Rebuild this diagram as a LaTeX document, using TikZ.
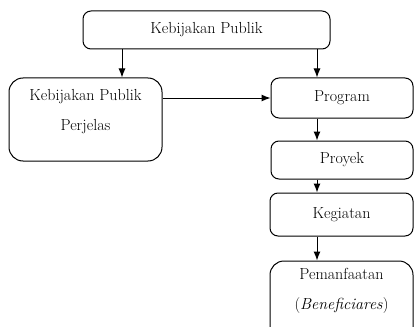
\documentclass[tikz,border=0pt]{standalone}
\usetikzlibrary{arrows.meta}

\tikzset{
  box/.style={draw, line width=1pt, rounded corners=8pt, inner sep=0pt},
  arr/.style={line width=1pt, -{Latex[length=9pt,width=7pt]}},
  every node/.style={font=\fontsize{16}{30}\selectfont},
  every label/.style={font=\fontsize{16}{30}\selectfont}
}

\begin{document}
\begin{tikzpicture}[x=1pt,y=-1pt]
    \clip (0,0) rectangle (414,326);
    \node[box, minimum width=247pt, minimum height=38pt] (top) at (206.5,30) {Kebijakan Publik};
    \node[box, rounded corners=14pt, minimum width=153pt, minimum height=83pt,
          label={[align=center, yshift=7.5pt]center:Kebijakan Publik\\Perjelas}] (lft) at (85.5,119.5) {};
    \node[box, minimum width=142pt, minimum height=40pt] (prog) at (342,98) {Program};
    \node[box, minimum width=142pt, minimum height=38pt] (proy) at (342,160) {Proyek};
    \node[box, minimum width=143pt, minimum height=43pt] (keg) at (341.5,214.5) {Kegiatan};
    \node[box, rounded corners=14pt, minimum width=143pt, minimum height=90pt,
          label={[align=center, anchor=north, yshift=-4pt]north:Pemanfaatan\\(\textit{Beneficiares})}] (pem) at (341.5,306) {};
    \coordinate (lx) at (122,0);
    \coordinate (rx) at (317,0);
\draw[arr] (top.south -| lx) -- (lft.north -| lx);
\draw[arr] (top.south -| rx) -- (prog.north -| rx);
\draw[arr] (lft.east |- prog.west) -- (prog.west);
\draw[arr] (prog.south -| rx) -- (proy.north -| rx);
\draw[arr] (proy.south -| rx) -- (keg.north -| rx);
\draw[arr] (keg.south -| rx) -- (pem.north -| rx);
\end{tikzpicture}
\end{document}
